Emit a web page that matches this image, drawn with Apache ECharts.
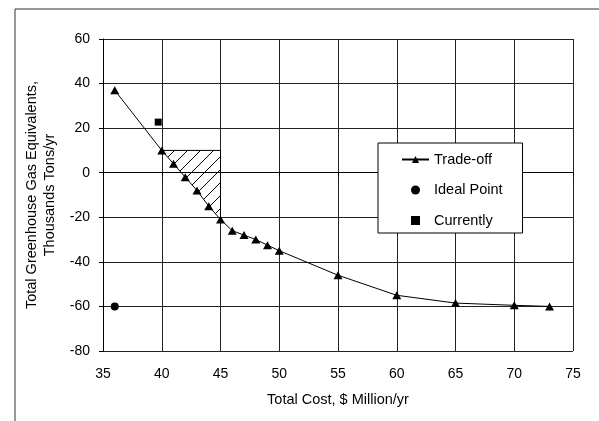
<!DOCTYPE html>
<html>
<head>
<meta charset="utf-8">
<script src="https://cdn.jsdelivr.net/npm/echarts@6/dist/echarts.min.js"></script>
<style>
html,body{margin:0;padding:0;background:#fff;}
#main{width:599px;height:421px;}
</style>
</head>
<body>
<div id="main"></div>
<script>
// ---- data ----
const tradeX = [36, 40, 41, 42, 43, 44, 45, 46, 47, 48, 49, 50, 55, 60, 65, 70, 73];
const tradeY = [37, 10, 4, -2, -8, -15, -21, -26, -28, -30, -32.5, -35, -46, -55, -58.5, -59.5, -60];
const idealX = [36];
const idealY = [-60];
const currentX = [39.7];
const currentY = [22.7];
// hatched region bounds (cost range and GHG cap)
const hatchCost = [40, 45];
const hatchCap = [10];
const xTicks = [35, 40, 45, 50, 55, 60, 65, 70, 75];
const yTicks = [-80, -60, -40, -20, 0, 20, 40, 60];

const FONT = '"Liberation Sans", Arial, sans-serif';

// hatch pattern
const S = 13;
const pat = document.createElement('canvas');
pat.width = S; pat.height = S;
const c = pat.getContext('2d');
c.strokeStyle = '#000';
c.lineWidth = 1;
c.beginPath();
c.moveTo(0, S); c.lineTo(S, 0);
c.moveTo(-2, 2); c.lineTo(2, -2);
c.moveTo(S - 2, S + 2); c.lineTo(S + 2, S - 2);
c.stroke();

// polygon: corner, then curve points in the cost range
const hatchPts = [[hatchCost[1], hatchCap[0]]];
for (let i = tradeX.length - 1; i >= 0; i--) {
  if (tradeX[i] >= hatchCost[0] && tradeX[i] <= hatchCost[1]) hatchPts.push([tradeX[i], tradeY[i]]);
}

const chart = echarts.init(document.getElementById('main'), null, {renderer: 'canvas'});
chart.setOption({
  animation: false,
  backgroundColor: '#fff',
  textStyle: {fontFamily: FONT},
  graphic: [{
    type: 'rect', left: 12.5, top: 6.5, z: -10,
    shape: {width: 620, height: 450},
    style: {fill: 'none', stroke: '#333', lineWidth: 1}
  }],
  grid: {left: 103, right: 26, top: 39, bottom: 70},
  xAxis: {
    type: 'value', min: 35, max: 75, interval: 5,
    name: 'Total Cost, $ Million/yr',
    nameLocation: 'middle', nameGap: 41,
    nameTextStyle: {color: '#000', fontSize: 14.5, fontFamily: FONT},
    axisLine: {lineStyle: {color: '#000', width: 1}},
    axisTick: {show: true, length: 4, inside: false, lineStyle: {color: '#000'}},
    axisLabel: {color: '#000', fontSize: 14, margin: 16, fontFamily: FONT,
      formatter: v => xTicks.indexOf(v) >= 0 ? String(v) : ''},
    splitLine: {show: true, lineStyle: {color: '#222', width: 1}}
  },
  yAxis: {
    type: 'value', min: -80, max: 60, interval: 20,
    name: 'Total Greenhouse Gas Equivalents,\nThousands Tons/yr',
    nameLocation: 'middle', nameGap: 38, nameRotate: 90,
    nameTextStyle: {color: '#000', fontSize: 14.5, lineHeight: 18, fontFamily: FONT},
    axisLine: {show: true, lineStyle: {color: '#000', width: 1}},
    axisTick: {show: true, length: 4, inside: false, lineStyle: {color: '#000'}},
    axisLabel: {color: '#000', fontSize: 14, margin: 13, fontFamily: FONT,
      formatter: v => yTicks.indexOf(v) >= 0 ? String(v) : ''},
    splitLine: {show: true, lineStyle: {color: '#222', width: 1}}
  },
  legend: {
    orient: 'vertical', left: 378, top: 143,
    padding: [9, 20, 5, 23],
    itemGap: 15.5, itemWidth: 27, itemHeight: 9,
    backgroundColor: '#fff', borderColor: '#000', borderWidth: 1,
    textStyle: {color: '#000', fontSize: 14.5, fontFamily: FONT},
    data: [
      {name: 'Trade-off'},
      {name: 'Ideal Point', icon: 'circle'},
      {name: 'Currently', icon: 'path://M0,0L10,0L10,10L0,10Z'}
    ]
  },
  series: [
    {
      type: 'custom', name: 'hatch', silent: true, z: 1,
      data: [[hatchCost[0], hatchCap[0]]],
      renderItem: function (params, api) {
        const pts = hatchPts.map(p => api.coord(p));
        const edge = [api.coord([hatchCost[1], hatchPts[1][1]]), api.coord([hatchCost[1], hatchCap[0]]), api.coord([hatchCost[0], hatchCap[0]])];
        return {
          type: 'group',
          children: [
            {type: 'polygon', shape: {points: pts}, style: {fill: {image: pat, repeat: 'repeat'}, stroke: null}},
            {type: 'polyline', shape: {points: edge}, style: {stroke: '#000', lineWidth: 1, fill: null}}
          ]
        };
      }
    },
    {
      type: 'line', name: 'Trade-off', z: 3,
      data: tradeX.map((x, i) => [x, tradeY[i]]),
      symbol: 'triangle', symbolSize: [9, 8],
      lineStyle: {color: '#000', width: 1},
      itemStyle: {color: '#000', opacity: 1}
    },
    {
      type: 'scatter', name: 'Ideal Point', z: 3,
      data: idealX.map((x, i) => [x, idealY[i]]),
      symbol: 'circle', symbolSize: 8,
      itemStyle: {color: '#000', opacity: 1}
    },
    {
      type: 'scatter', name: 'Currently', z: 3,
      data: currentX.map((x, i) => [x, currentY[i]]),
      symbol: 'rect', symbolSize: 7,
      itemStyle: {color: '#000', opacity: 1}
    }
  ]
});
</script>
</body>
</html>
